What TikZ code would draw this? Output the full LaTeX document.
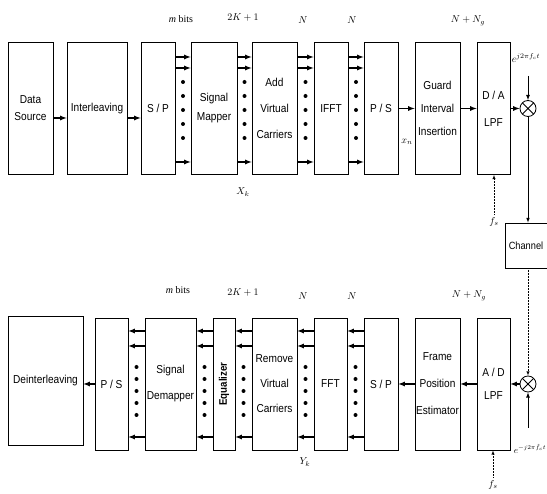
\documentclass[tikz,border=0pt]{standalone}
\usepackage{fontspec}
\setmainfont[FakeStretch=0.88]{Liberation Sans}
\newfontfamily\serif{Liberation Serif}
\usetikzlibrary{arrows, calc}

\tikzset{
	blk/.style={draw, line width=0.8pt, align=center, inner sep=1pt,
		minimum width=#1, minimum height=132pt},
	ls/.style={font=\fontsize{11.5}{#1}\selectfont},
	sig/.style={-latex, line width=1.2pt},
	thinsig/.style={-latex, line width=0.5pt, densely dotted},
	mixer/.style={draw, circle, line width=0.8pt, minimum size=16pt, inner sep=0pt,
		path picture={\draw (path picture bounding box.north west) -- (path picture bounding box.south east)
			(path picture bounding box.north east) -- (path picture bounding box.south west);}},
	lbl/.style={font=\fontsize{10}{11}\selectfont},
}

\begin{document}
\begin{tikzpicture}[x=1pt, y=-1pt]
	\useasboundingbox (0,0) rectangle (547,494);
	% transmitter
	\node[blk=45pt, ls=17] (src) at (30.5,108.5) {Data\\Source};
	\node[blk=60pt, ls=20] (ilv) at (97,108.5) {Interleaving};
	\node[blk=34pt, ls=20] (sp) at (158,108.5) {S / P};
	\node[blk=46pt, ls=19] (map) at (214,108.5) {Signal\\Mapper};
	\node[blk=45pt, ls=26] (avc) at (274.5,108.5) {Add\\Virtual\\Carriers};
	\node[blk=34pt, ls=20] (ifft) at (331,108.5) {IFFT};
	\node[blk=34pt, ls=20] (ps) at (381,108.5) {P / S};
	\node[blk=45pt, ls=23] (gi) at (437.5,108.5) {Guard\\Interval\\Insertion};
	\node[blk=33pt, ls=27] (da) at (493.5,108.5) {D / A\\LPF};
	\node[mixer] (mixa) at (528,108.5) {};
	\node[draw, line width=0.8pt, inner sep=1pt, minimum width=42pt, minimum height=45pt,
		font=\fontsize{10.5}{12}\selectfont] (chan) at (526,245.5) {Channel};

	% receiver
	\node[blk=75pt, ls=20, minimum height=129pt] (deint) at (45.5,381) {Deinterleaving};
	\node[blk=33pt, ls=20] (ps2) at (111.5,384) {P / S};
	\node[blk=51pt, ls=26] (demap) at (170.5,384) {Signal\\Demapper};
	\node[blk=22pt] (eq) at (224,384) {};
	\node[rotate=90, font=\fontsize{11}{12}\selectfont\bfseries] (eqtxt) at (eq) {Equalizer};
	\node[blk=45pt, ls=25] (rvc) at (274.5,384) {Remove\\Virtual\\Carriers};
	\node[blk=33pt, ls=20] (fft) at (330.5,384) {FFT};
	\node[blk=34pt, ls=20] (sp2) at (381,384) {S / P};
	\node[blk=45pt, ls=27] (fpe) at (437.5,384) {Frame\\Position\\Estimator};
	\node[blk=33pt, ls=23] (ad) at (493.5,384) {A / D\\LPF};
	\node[mixer] (mixb) at (528,384) {};

	% single connections
	\draw[sig] (src.east |- 0,118) -- (ilv.west |- 0,118);
	\draw[sig] (ilv.east |- 0,118) -- (sp.west |- 0,118);
	\draw[sig] (ps) -- (gi);
	\draw[sig] (gi) -- (da);
	\draw[sig] (da) -- (mixa);
	\draw[-latex, line width=0.6pt] (mixa) -- (mixa |- chan.north);
	\draw[thinsig] (mixb |- chan.south) -- (mixb);
	\draw[sig] (mixb) -- (ad);
	\draw[sig] (ad) -- (fpe);
	\draw[sig] (fpe) -- (sp2);
	\draw[sig] (ps2.west) -- (deint.east |- ps2.west);

	% parallel connections
	\foreach \a/\b in {sp/map, map/avc, avc/ifft, ifft/ps}{
		\foreach \y in {57,68,162}
			\draw[sig] (\a.east |- 0,\y) -- (\b.west |- 0,\y);
		\path (\a.east) -- (\b.west) coordinate[midway] (gap);
		\foreach \y in {82,96,...,138}
			\fill (gap |- 0,\y) circle (2pt);
	}
	\foreach \a/\b in {ps2/demap, demap/eq, eq/rvc, rvc/fft, fft/sp2}{
		\foreach \y in {331,346,437}
			\draw[sig] (\b.west |- 0,\y) -- (\a.east |- 0,\y);
		\path (\a.east) -- (\b.west) coordinate[midway] (gap);
		\foreach \y in {367,379,...,415}
			\fill (gap |- 0,\y) circle (2pt);
	}

	% carriers and clocks
	\node[lbl] (ca) at (526,58) {$e^{j2\pi f_c t}$};
	\coordinate (ca0) at (528,76);
	\draw[sig, line width=0.8pt] (ca0) -- (mixa);
	\node[font=\fontsize{9}{10}\selectfont] (cb) at (530,449) {$e^{-j2\pi\hat{f}_c t}$};
	\coordinate (cb0) at (528,428);
	\draw[sig, line width=0.8pt] (cb0) -- (mixb);
	\node[lbl] (fsa) at (494,222) {$f_s$};
	\draw[thinsig] (fsa) -- (fsa |- da.south);
	\node[lbl] (fsb) at (493,485) {$f_s$};
	\draw[thinsig] (fsb) -- (fsb |- ad.south);

	% signal labels
	\node[lbl] (bitsa) at (181,19) {\serif\itshape m \upshape bits};
	\node[lbl] (ka) at (243,18) {$2K+1$};
	\node[lbl] (na) at (303,20) {$N$};
	\node[lbl] (nb) at (352,20) {$N$};
	\node[lbl] (nga) at (468,21) {$N+N_g$};
	\node[lbl] (xk) at (243,192) {$X_k$};
	\node[lbl] (xn) at (407,142) {$x_n$};
	\node[lbl] (bitsb) at (178,290) {\serif\itshape m \upshape bits};
	\node[lbl] (kb) at (243,293) {$2K+1$};
	\node[lbl] (nc) at (303,296) {$N$};
	\node[lbl] (nd) at (352,296) {$N$};
	\node[lbl] (ngb) at (469,296) {$N+N_g$};
	\node[lbl] (yk) at (305,462) {$Y_k$};
\end{tikzpicture}
\end{document}
